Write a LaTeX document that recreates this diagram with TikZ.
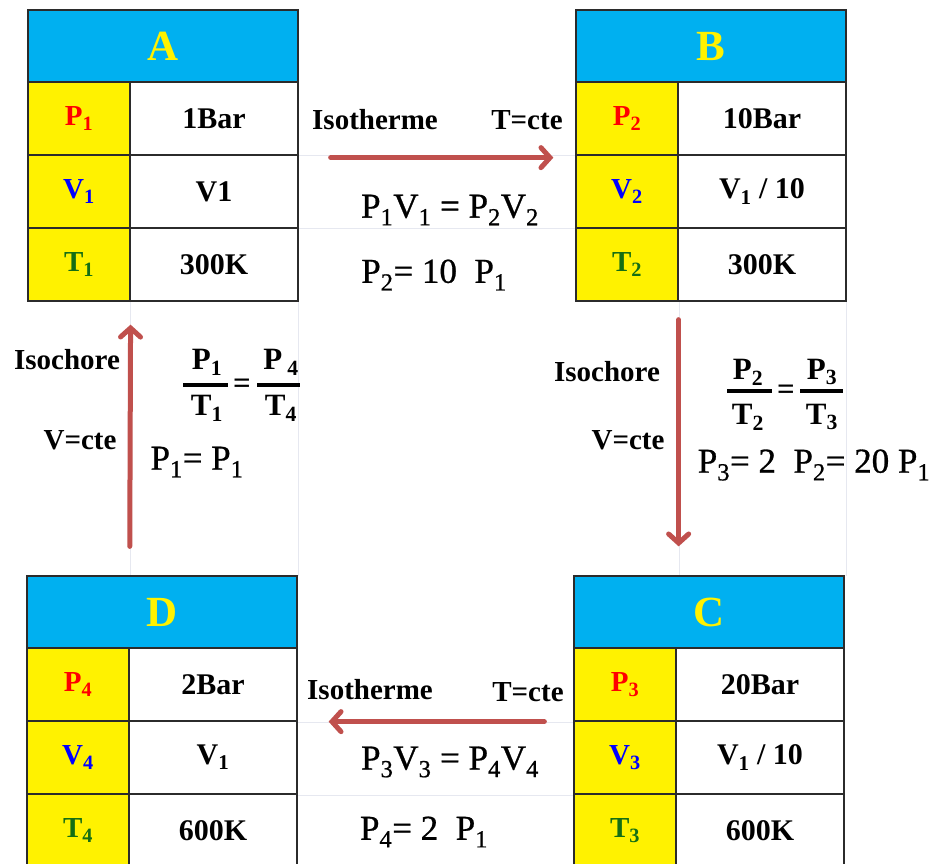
\documentclass[tikz,border=0pt]{standalone}
\usepackage{fontspec}
\setmainfont{Liberation Serif}
\newfontfamily\eqfont{Liberation Serif}[UprightFeatures={FakeBold=0.8}]
\usetikzlibrary{arrows.meta,calc}
\definecolor{hdrblue}{HTML}{00B0F0}
\definecolor{arrowred}{HTML}{C0504D}
\definecolor{pcol}{HTML}{FF0000}
\definecolor{vcol}{HTML}{0000FF}
\definecolor{tcol}{RGB}{20,110,20}
\definecolor{gridc}{HTML}{E6E8F0}
\definecolor{edgec}{HTML}{2B2B2B}
\newcommand\sbs[1]{\textsubscript{#1}}
\tikzset{
 cell/.style={draw=edgec, line width=1.3pt, inner sep=0pt, minimum height=73pt, anchor=center},
 hdr/.style={cell, fill=hdrblue, minimum width=270pt, minimum height=72pt, text=yellow, font=\fontsize{43}{46}\selectfont\bfseries},
 keycell/.style={cell, fill=yellow, minimum width=102pt, font=\fontsize{29}{32}\selectfont\bfseries},
 valcell/.style={cell, fill=white, minimum width=168pt, font=\fontsize{30}{33}\selectfont\bfseries},
 lbl/.style={inner sep=0pt, font=\fontsize{29}{32}\selectfont\bfseries},
 eq/.style={inner sep=0pt, font=\fontsize{35}{38}\selectfont\eqfont},
 frc/.style={inner sep=0pt, font=\fontsize{31}{34}\selectfont\bfseries},
 fbar/.style={line width=3.5pt},
 flow/.style={draw=arrowred, line width=5pt, line cap=round, -{Straight Barb[length=9pt,width=20pt,line cap=round]}},
 sheetline/.style={draw=gridc, line width=0.8pt}
}
% #1 name, #2 left, #3 top, #4 letter, #5 index, #6 P, #7 V, #8 T
\newcommand\statetab[8]{%
 \node[hdr] (#1-hdr) at (#2+135,#3+36) {#4};
 \node[keycell] (#1-pk) at (#2+51,#3+72+36.5) {\textcolor{pcol}{P\sbs{#5}}};
 \node[valcell] (#1-pv) at (#2+186,#3+72+36.5) {#6};
 \node[keycell] (#1-vk) at (#2+51,#3+145+36.5) {\textcolor{vcol}{V\sbs{#5}}};
 \node[valcell] (#1-vv) at (#2+186,#3+145+36.5) {#7};
 \node[keycell] (#1-tk) at (#2+51,#3+218+36.5) {\textcolor{tcol}{T\sbs{#5}}};
 \node[valcell] (#1-tv) at (#2+186,#3+218+36.5) {#8};
}
\begin{document}
\begin{tikzpicture}[x=1pt,y=-1pt]
\useasboundingbox (0,0) rectangle (943,863);
\fill[white] (0,0) rectangle (943,863);
% faint sheet grid
\draw[sheetline] (130,300) -- (130,576);
\draw[sheetline] (298,300) -- (298,576);
\draw[sheetline] (679,300) -- (679,576);
\draw[sheetline] (846,300) -- (846,576);
\draw[sheetline] (298,155) -- (576,155);
\draw[sheetline] (298,228) -- (576,228);
\draw[sheetline] (297,722) -- (574,722);
\draw[sheetline] (297,795) -- (574,795);
% tables
\statetab{A}{28}{10}{A}{1}{1Bar}{V1}{300K}
\statetab{B}{576}{10}{B}{2}{10Bar}{V\sbs{1} / 10}{300K}
\statetab{D}{27}{576}{D}{4}{2Bar}{V\sbs{1}}{600K}
\statetab{C}{574}{576}{C}{3}{20Bar}{V\sbs{1} / 10}{600K}
% arrows
\draw[flow, shorten <=32pt, shorten >=22pt] ([yshift=-2pt]A-pv.south east) -- ([yshift=-2pt]B-pk.south west);
\draw[flow, shorten <=18pt, shorten >=29pt] (B-tk.south east) -- (C-hdr.north -| B-tk.east);
\draw[flow, shorten <=29pt, shorten >=31pt] (C-pk.south west) -- (D-pv.south east);
\draw[flow, shorten <=29pt, shorten >=23pt] (D-hdr.north -| D-pk.east) -- (A-tk.south east);
% top
\node[lbl] (l1) at (375,120) {Isotherme};
\node[lbl] (l2) at (527,120) {T=cte};
\node[eq] (e1) at (450,210) {P\sbs{1}V\sbs{1} = P\sbs{2}V\sbs{2}};
\node[eq] (e2) at (434,275) {P\sbs{2}= 10 ~P\sbs{1}};
% left
\node[lbl] (l3) at (67,360) {Isochore};
\node[lbl] (l4) at (80,440) {V=cte};
\node[frc] (f1n) at (207,362) {P\sbs{1}};
\draw[fbar] (183,385) -- (228,385);
\node[frc] (f1d) at (207,408) {T\sbs{1}};
\node[frc] (f1e) at (242,386) {=};
\node[frc] (f2n) at (281,362) {P\,\sbs{4}};
\draw[fbar] (257,385) -- (300,385);
\node[frc] (f2d) at (281,408) {T\sbs{4}};
\node[eq] (e3) at (197,462) {P\sbs{1}= P\sbs{1}};
% right
\node[lbl] (l5) at (607,372) {Isochore};
\node[lbl] (l6) at (628,440) {V=cte};
\node[frc] (f3n) at (748,372) {P\sbs{2}};
\draw[fbar] (727,391) -- (772,391);
\node[frc] (f3d) at (748,417) {T\sbs{2}};
\node[frc] (f3e) at (786,392) {=};
\node[frc] (f4n) at (822,372) {P\sbs{3}};
\draw[fbar] (800,391) -- (843,391);
\node[frc] (f4d) at (822,417) {T\sbs{3}};
\node[eq] (e4) at (814,465) {P\sbs{3}= 2 ~P\sbs{2}= 20 P\sbs{1}};
% bottom
\node[lbl] (l7) at (370,690) {Isotherme};
\node[lbl] (l8) at (528,692) {T=cte};
\node[eq] (e5) at (450,762) {P\sbs{3}V\sbs{3} = P\sbs{4}V\sbs{4}};
\node[eq] (e6) at (424,832) {P\sbs{4}= 2 ~P\sbs{1}};
\end{tikzpicture}
\end{document}
